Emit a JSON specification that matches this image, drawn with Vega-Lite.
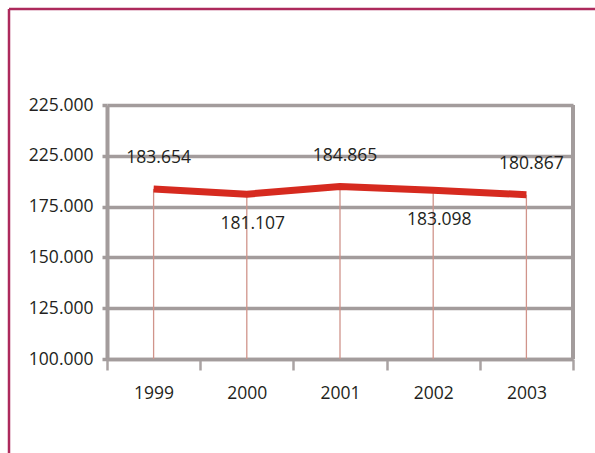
{
  "$schema": "https://vega.github.io/schema/vega-lite/v6.json",
  "width": 586,
  "height": 444,
  "autosize": {"type": "none"},
  "padding": {"left": 9, "top": 9, "right": 0, "bottom": 0},
  "background": "white",
  "config": {
    "font": "Open Sans",
    "view": {"stroke": "#ad2a5c", "strokeWidth": 2.5, "strokeDash": [586, 1030, 444, 0], "fill": "white"},
    "locale": {"number": {"decimal": ",", "thousands": ".", "grouping": [3], "currency": ["", ""]}},
    "axisY": {
      "gridColor": "#a39c9c",
      "gridWidth": 3.5,
      "domainColor": "#a39c9c",
      "domainWidth": 4,
      "tickColor": "#a39c9c",
      "tickWidth": 3.5,
      "tickSize": 5,
      "labelPadding": 9,
      "labelFont": "Open Sans",
      "labelFontSize": 17.5,
      "labelColor": "#231f20",
      "title": null
    },
    "axisX": {
      "offset": -94,
      "grid": false,
      "tickBand": "extent",
      "domainColor": "#a39c9c",
      "domainWidth": 3.5,
      "tickColor": "#aaa3a3",
      "tickWidth": 2.5,
      "tickSize": 11,
      "labelPadding": 14,
      "labelAngle": 0,
      "labelFont": "Open Sans",
      "labelFontSize": 17.5,
      "labelColor": "#231f20",
      "title": null
    }
  },
  "data": {
    "values": [
      {"year": "1999", "value": 183654},
      {"year": "2000", "value": 181107},
      {"year": "2001", "value": 184865},
      {"year": "2002", "value": 183098},
      {"year": "2003", "value": 180867}
    ]
  },
  "encoding": {
    "x": {
      "field": "year",
      "type": "ordinal",
      "scale": {"range": [98, 564], "paddingInner": 0, "paddingOuter": 0},
      "axis": {"title": null}
    }
  },
  "resolve": {"axis": {"y": "independent"}},
  "layer": [
    {
      "mark": {"type": "rule", "color": "#d0948b", "strokeWidth": 1.3},
      "encoding": {
        "y": {
          "field": "value",
          "type": "quantitative",
          "scale": {"domain": [100000, 225000], "range": [350, 96], "nice": false, "zero": false},
          "axis": {
            "orient": "left",
            "offset": -98,
            "grid": false,
            "values": [100000, 125000, 150000, 175000, 200000, 225000],
            "format": ",.0f",
            "labelExpr": "datum.value == 200000 ? '225.000' : replace(format(datum.value, ',.0f'), ',', '.')",
            "title": null
          }
        },
        "y2": {"datum": 100000}
      }
    },
    {
      "mark": {"type": "line", "color": "#d62a1f", "strokeWidth": 7, "strokeJoin": "round", "strokeCap": "butt"},
      "encoding": {
        "y": {
          "field": "value",
          "type": "quantitative",
          "axis": {
            "orient": "left",
            "offset": 0,
            "grid": true,
            "labels": false,
            "ticks": false,
            "domain": false,
            "values": [100000, 125000, 150000, 175000, 200000, 225000],
            "title": null
          }
        }
      }
    },
    {
      "data": {"values": [{"edge": "right"}]},
      "mark": {"type": "rule", "color": "#a39c9c", "strokeWidth": 4},
      "encoding": {
        "x": {"datum": "2003", "type": "ordinal", "bandPosition": 1},
        "y": {"datum": 100000, "type": "quantitative", "axis": null},
        "y2": {"datum": 225000}
      }
    },
    {
      "transform": [{"filter": {"field": "year", "oneOf": ["1999", "2001", "2003"]}}],
      "mark": {"type": "text", "dy": -31, "dx": 5, "fontSize": 17.5, "font": "Open Sans", "color": "#231f20"},
      "encoding": {
        "y": {"field": "value", "type": "quantitative", "axis": null},
        "text": {"field": "value", "type": "quantitative", "format": ","}
      }
    },
    {
      "transform": [{"filter": {"field": "year", "oneOf": ["2000", "2002"]}}],
      "mark": {"type": "text", "dy": 30, "dx": 6, "fontSize": 17.5, "font": "Open Sans", "color": "#231f20"},
      "encoding": {
        "y": {"field": "value", "type": "quantitative", "axis": null},
        "text": {"field": "value", "type": "quantitative", "format": ","}
      }
    }
  ]
}
